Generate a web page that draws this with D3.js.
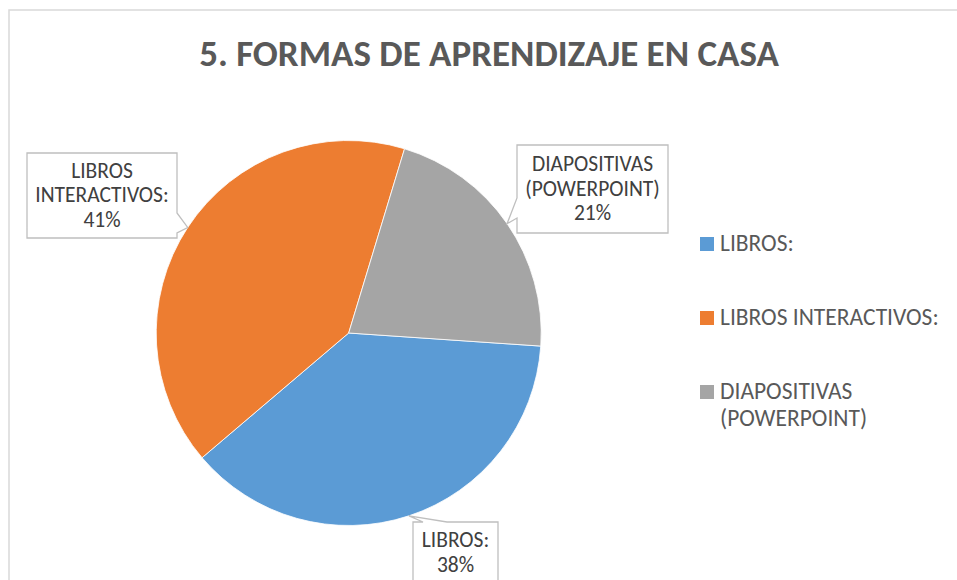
<!DOCTYPE html>
<html>
<head>
<meta charset="utf-8">
<script src="https://cdn.jsdelivr.net/npm/d3@7"></script>
<style>
  body { margin: 0; background: #fff; }
  svg { display: block; font-family: Calibri, Carlito, "Open Sans", sans-serif; }
</style>
</head>
<body>
<div id="chart"></div>
<script>

// data
var title = "5. FORMAS DE APRENDIZAJE EN CASA";
var categories = ["LIBROS:", "LIBROS INTERACTIVOS:", "DIAPOSITIVAS (POWERPOINT)"];
var values = [37.7, 40.9, 21.4];
var labelLines = [["LIBROS:"], ["LIBROS", "INTERACTIVOS:"], ["DIAPOSITIVAS", "(POWERPOINT)"]];
var legendLines = [["LIBROS:"], ["LIBROS INTERACTIVOS:"], ["DIAPOSITIVAS", "(POWERPOINT)"]];
var colors = ["#5B9BD5", "#ED7D31", "#A5A5A5"];

var width = 957, height = 580;
var cx = 348.7, cy = 333, radius = 192.5;
var firstAngle = 93.9 * Math.PI / 180;

// label box layout (x, y, w, h, side of the pointer, pointer base along that side)
var boxes = [
  {x: 413, y: 522, w: 85, h: 62, side: "top", b1: 423, b2: 447},
  {x: 27, y: 153, w: 150, h: 85, side: "right", b1: 213, b2: 233},
  {x: 517, y: 145, w: 151, h: 88, side: "left", b1: 198, b2: 218}
];

var svg = d3.select("#chart").append("svg")
    .attr("width", width)
    .attr("height", height);

svg.append("rect")
    .attr("x", 9)
    .attr("y", 10)
    .attr("width", width + 20)
    .attr("height", height + 20)
    .attr("fill", "#fff")
    .attr("stroke", "#d9d9d9")
    .attr("stroke-width", 1.5);

svg.append("text")
    .attr("x", 489)
    .attr("y", 66)
    .attr("text-anchor", "middle")
    .attr("font-size", 37)
    .attr("font-weight", "bold")
    .attr("fill", "#595959")
    .text(title);

var total = d3.sum(values);
var pie = d3.pie().sort(null).startAngle(firstAngle).endAngle(firstAngle + 2 * Math.PI);
var arcs = pie(values);
var arc = d3.arc().innerRadius(0).outerRadius(radius);

var g = svg.append("g").attr("transform", "translate(" + cx + "," + cy + ")");
g.selectAll("path")
    .data(arcs)
    .enter().append("path")
    .attr("d", arc)
    .attr("fill", function(d, i) { return colors[i]; })
    .attr("stroke", "#fff")
    .attr("stroke-width", 0.8);

function calloutPath(b, tip) {
  var x0 = b.x, y0 = b.y, x1 = b.x + b.w, y1 = b.y + b.h;
  var p = [];
  if (b.side == "top") {
    p = [[x0, y0], [b.b1, y0], tip, [b.b2, y0], [x1, y0], [x1, y1], [x0, y1]];
  } else if (b.side == "right") {
    p = [[x0, y0], [x1, y0], [x1, b.b1], tip, [x1, b.b2], [x1, y1], [x0, y1]];
  } else {
    p = [[x0, y0], [x1, y0], [x1, y1], [x0, y1], [x0, b.b2], tip, [x0, b.b1]];
  }
  return "M" + p.map(function(q) { return q[0] + "," + q[1]; }).join("L") + "Z";
}

for (i = 0; i < arcs.length; i++) {
  var a = arcs[i];
  var mid = (a.startAngle + a.endAngle) / 2;
  var tip = [cx + radius * Math.sin(mid), cy - radius * Math.cos(mid)];
  var b = boxes[i];
  svg.append("path")
      .attr("d", calloutPath(b, tip))
      .attr("fill", "#fff")
      .attr("stroke", "#bfbfbf")
      .attr("stroke-width", 1.3);

  var lines = labelLines[i].concat([Math.round(values[i] / total * 100) + "%"]);
  var mcy = b.y + b.h / 2;
  var t = svg.append("text")
      .attr("text-anchor", "middle")
      .attr("font-size", 21.5)
      .attr("fill", "#404040");
  for (j = 0; j < lines.length; j++) {
    t.append("tspan")
        .attr("x", b.x + b.w / 2)
        .attr("y", mcy + (j - (lines.length - 1) / 2) * 24.5 + 6.5)
        .text(lines[j]);
  }
}

// legend
for (i = 0; i < categories.length; i++) {
  var by = 250.5 + i * 74;
  svg.append("rect")
      .attr("x", 700)
      .attr("y", by - 13.5)
      .attr("width", 14)
      .attr("height", 14)
      .attr("fill", colors[i]);
  var lt = svg.append("text")
      .attr("font-size", 23.5)
      .attr("fill", "#595959");
  for (j = 0; j < legendLines[i].length; j++) {
    lt.append("tspan")
        .attr("x", 720)
        .attr("y", by + j * 27.5)
        .text(legendLines[i][j]);
  }
}

</script>
</body>
</html>
